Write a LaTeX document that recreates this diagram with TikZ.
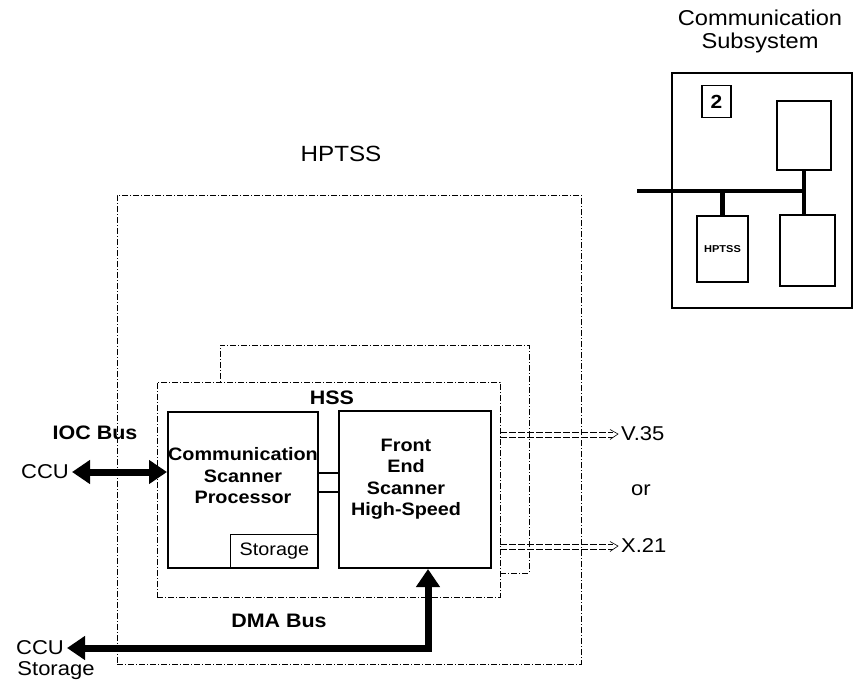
\documentclass[tikz,border=0pt]{standalone}
\usepackage{fontspec}
\setmainfont{Liberation Sans}[FakeStretch=1.1]
\usetikzlibrary{arrows.meta,positioning,calc}
\tikzset{
  frame/.style ={draw, line width=0.6pt, dash pattern=on 6pt off 2pt on 1pt off 2pt},
  unit/.style  ={draw, line width=2pt, inner sep=0pt},
  subunit/.style={draw, line width=1.2pt, inner sep=0pt},
  lbl/.style   ={font=\fontsize{18}{21.5}\selectfont\bfseries, align=center, inner sep=0pt},
  biglbl/.style={font=\fontsize{19.5}{22}\selectfont\bfseries, align=center, inner sep=0pt},
  txt/.style   ={font=\fontsize{20}{23}\selectfont, align=center, inner sep=0pt},
  bus/.style   ={line width=7pt, {Triangle[length=18pt,width=23pt]}-{Triangle[length=18pt,width=23pt]}},
  iface/.style ={line width=0.6pt, dash pattern=on 7pt off 2pt},
  ifhead/.style={line width=0.6pt},
}
\begin{document}
\begin{tikzpicture}[x=1pt, y=-1pt]
  \useasboundingbox (0,0) rectangle (856,690);

  % outer HPTSS frame and the two HSS frames
  \node[frame, minimum width=464pt, minimum height=469pt] (hptss) at (349,429.5) {};
  \node[txt, font=\fontsize{22}{26}\selectfont] (hptssl) at (341,154) {HPTSS};
  \node[frame, minimum width=343pt, minimum height=215pt] (hss) at (328.5,489.5) {};
  \draw[frame] (hss.east |- 0,573) -- (529,573) -- (529,345) -- (220,345) -- (220,382);
  \node[biglbl] (hssl) at (332,398) {HSS};

  % line interfaces (hollow double arrows)
  \node[txt, anchor=west] (v35) at (621,434) {V.35};
  \node[txt] (orl) at (641,490) {or};
  \node[txt, anchor=west] (x21) at (621,546) {X.21};
  \foreach \lab/\yy in {v35/434.5, x21/546.5} {
    \draw[iface] (hss.east |- 0,\yy-2.6) -- (613,\yy-2.6);
    \draw[iface] (hss.east |- 0,\yy+2.6) -- (613,\yy+2.6);
    \draw[ifhead] (610,\yy-5) -- ([xshift=-3pt]\lab.west) -- (610,\yy+5);
  }

  % the two units inside the HSS
  \node[unit, minimum width=150pt, minimum height=156pt] (csp)  at (243,490) {};
  \node[unit, minimum width=152pt, minimum height=157pt] (fesh) at (415,489.5) {};
  \node[lbl] (cspt)  at (243,476) {Communication\\Scanner\\Processor};
  \node[lbl] (fesht) at (406,479) {Front\\End\\Scanner\\High-Speed};
  \node[subunit, minimum width=88pt, minimum height=34pt, anchor=south east,
        font=\fontsize{18}{21}\selectfont] (stor) at (csp.south east) {Storage};
  \draw[line width=2pt] (csp.east |- 0,473) -- (fesh.west |- 0,473);
  \draw[line width=2pt] (csp.east |- 0,492) -- (fesh.west |- 0,492);

  % buses to the CCU
  \node[biglbl] (ioc) at (95,433) {IOC Bus};
  \node[txt] (ccu) at (45,472) {CCU};
  \draw[bus] ([xshift=3pt]ccu.east) -- (ccu.east -| csp.west);
  \node[biglbl] (dma) at (279,621) {DMA Bus};
  \node[txt] (ccus) at (40,648) {CCU};
  \node[txt] (stl)  at (56,671) {Storage};
  \draw[bus] ([xshift=13pt]fesh.south) |- ([xshift=3pt]ccus.east);

  % small overview of the communication subsystem
  \node[txt, font=\fontsize{21.5}{23}\selectfont] (cssl) at (760,31) {Communication\\Subsystem};
  \node[draw, line width=1.2pt, minimum width=180pt, minimum height=235pt] (css) at (762,190.5) {};
  \node[draw, line width=1.2pt, minimum width=29pt, minimum height=32pt, inner sep=0pt,
        font=\fontsize{19}{19}\selectfont\bfseries] (num) at (716.5,101.5) {2};
  \node[draw, line width=1.2pt, minimum width=54pt, minimum height=69pt] (ra) at (804,135.5) {};
  \node[draw, line width=1.2pt, minimum width=55pt, minimum height=71pt] (rb) at (807.5,250.5) {};
  \node[draw, line width=1.2pt, minimum width=51pt, minimum height=66pt, inner sep=0pt,
        font=\fontsize{10}{10}\selectfont\bfseries] (hp) at (722.5,249) {HPTSS};
  \coordinate (busl) at (637,191);
  \draw[line width=4.5pt] (busl) -- (ra.south |- busl);
  \draw[line width=4.5pt] (ra.south) -- (ra.south |- rb.north);
  \draw[line width=4.5pt] (hp.north) -- (hp.north |- busl);
\end{tikzpicture}
\end{document}
